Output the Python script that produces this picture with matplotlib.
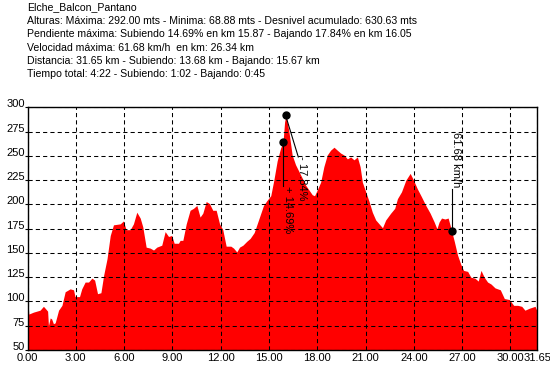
import matplotlib
matplotlib.use("Agg")
import matplotlib.pyplot as plt

# elevation profile (km, metres)
km = [0.00, 0.02, 0.08, 0.37, 0.78, 0.99, 1.15, 1.25, 1.30, 1.41, 1.50, 1.61, 1.72,
      1.93, 2.14, 2.34, 2.65, 2.86, 2.95, 3.23, 3.37, 3.58, 3.79, 4.00, 4.17, 4.35,
      4.56, 4.73, 4.94, 5.14, 5.34, 5.76, 5.96, 6.12, 6.38, 6.58, 6.79, 7.00, 7.16,
      7.37, 7.62, 7.83, 8.03, 8.34, 8.55, 8.76, 8.96, 9.11, 9.38, 9.48, 9.65, 9.86,
      10.10, 10.31, 10.52, 10.72, 10.89, 11.10, 11.30, 11.51, 11.72, 11.93, 12.13,
      12.34, 12.63, 12.80, 13.00, 13.17, 13.38, 13.62, 13.83, 14.08, 14.35, 14.66,
      14.87, 15.11, 15.30, 15.51, 15.72, 15.87, 15.97, 16.05, 16.24, 16.44, 16.65,
      16.86, 17.07, 17.27, 17.48, 17.69, 17.83, 18.00, 18.21, 18.41, 18.62, 18.83,
      19.04, 19.24, 19.45, 19.66, 19.87, 20.07, 20.28, 20.49, 20.66, 20.80, 21.01,
      21.22, 21.42, 21.63, 21.84, 22.05, 22.25, 22.56, 22.81, 22.98, 23.23, 23.50,
      23.77, 23.98, 24.22, 24.47, 24.74, 25.01, 25.26, 25.43, 25.57, 25.72, 25.93,
      26.13, 26.34, 26.51, 26.71, 26.92, 27.09, 27.34, 27.54, 27.79, 28.00, 28.17,
      28.37, 28.58, 28.79, 29.04, 29.37, 29.62, 29.93, 30.20, 30.45, 30.70, 30.90,
      31.17, 31.53, 31.65]
elev = [102, 102, 87, 89, 91, 95, 92, 90, 75, 83, 82, 77, 78,
        91, 96, 110, 113, 112, 105, 105, 113, 120, 120, 124, 122, 108,
        109, 127, 144, 168, 179, 180, 183, 174, 174, 180, 192, 186, 177,
        156, 155, 153, 156, 158, 172, 167, 168, 160, 160, 163, 163, 180,
        194, 196, 199, 187, 191, 203, 201, 194, 194, 180, 174,
        157, 157, 155, 151, 156, 158, 162, 165, 171, 184, 199,
        204, 209, 225, 245, 258, 264, 285, 292, 275, 251, 241,
        234, 227, 220, 215, 210, 209, 215, 223, 239, 251, 256,
        259, 256, 253, 251, 247, 249, 246, 249, 239, 223, 213,
        203, 192, 184, 180, 176, 184, 191, 196, 206, 213, 225,
        232, 225, 216, 208, 199, 191, 182, 175, 182, 186, 185,
        186, 173, 162, 148, 138, 132, 131, 125, 124, 121, 132,
        125, 120, 118, 114, 112, 103, 102, 96, 96, 95, 91,
        93, 95, 90]

header = ["Elche_Balcon_Pantano",
          "Alturas: Máxima: 292.00 mts - Minima: 68.88 mts - Desnivel acumulado: 630.63 mts",
          "Pendiente máxima: Subiendo 14.69% en km 15.87 - Bajando 17.84% en km 16.05",
          "Velocidad máxima: 61.68 km/h  en km: 26.34 km",
          "Distancia: 31.65 km - Subiendo: 13.68 km - Bajando: 15.67 km",
          "Tiempo total: 4:22 - Subiendo: 1:02 - Bajando: 0:45"]

xticks = [0, 3, 6, 9, 12, 15, 18, 21, 24, 27, 30, 31.65]
yticks = [50, 75, 100, 125, 150, 175, 200, 225, 250, 275, 300]

plt.rcParams['font.family'] = ['Liberation Sans', 'DejaVu Sans']

fig = plt.figure(figsize=(5.5, 3.68), dpi=100)
ax = fig.add_axes([0.05, 0.049, 0.9264, 0.659])

ax.fill_between(km, elev, 50, color='#ff0000', linewidth=0, zorder=1)

ax.set_xlim(0, 31.65)
ax.set_ylim(50, 300)
ax.set_xticks(xticks)
ax.set_xticklabels(["%.2f" % t for t in xticks], fontsize=8)
ax.set_yticks(yticks)
ax.set_yticklabels([str(t) for t in yticks], fontsize=8, va='baseline')
ax.tick_params(axis='x', length=0, pad=2)
ax.tick_params(axis='y', length=2, pad=0, width=0.8)
ax.grid(True, color='black', linestyle=(0, (4, 3)), linewidth=0.75)
ax.set_axisbelow(False)
for s in ax.spines.values():
    s.set_linewidth(1)

# max slope up
ax.plot([15.87, 15.87], [264, 219], color='black', linewidth=0.8, zorder=4)
ax.plot(15.87, 264, 'o', color='black', markersize=5, zorder=5)
ax.text(15.87, 219, "+ 14.69%", rotation=-90, ha='left', va='top', fontsize=8, zorder=5)

# max slope down / peak
ax.plot([16.03, 16.82], [292, 249], color='black', linewidth=0.8, zorder=4)
ax.plot(16.03, 292, 'o', color='black', markersize=5, zorder=5)
ax.text(16.72, 250, "- 17.84%", rotation=-90, ha='left', va='top', fontsize=8, zorder=5)

# max speed
ax.plot([26.34, 26.34], [172.6, 216], color='black', linewidth=0.8, zorder=4)
ax.plot(26.34, 172.6, 'o', color='black', markersize=5, zorder=5)
ax.text(26.30, 218, "61.68 km/h", rotation=-90, ha='left', va='bottom', fontsize=8, zorder=5)

ys = [7.3, 21, 34.3, 47.7, 61, 74.3]
for txt, y in zip(header, ys):
    fig.text(27 / 550, 1 - y / 368, txt, fontsize=7.6, ha='left', va='center')

fig.savefig('out.png', dpi=100, facecolor='white')
